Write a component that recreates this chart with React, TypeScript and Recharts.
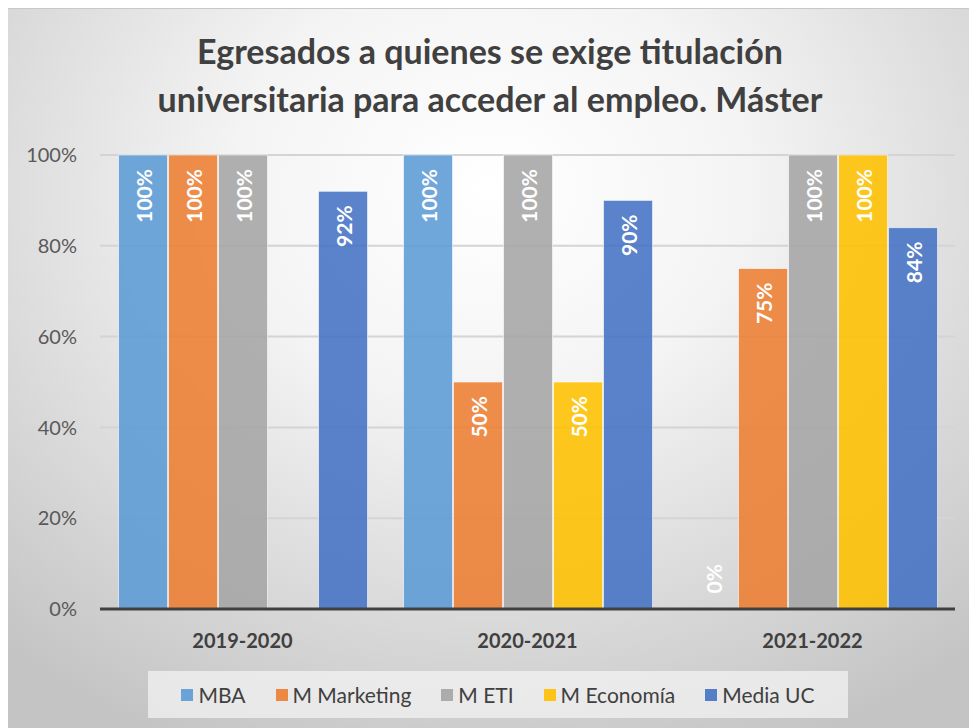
import { BarChart, Bar, XAxis, YAxis, CartesianGrid, Legend, LabelList } from 'recharts';

const CATEGORIES = ['2019-2020', '2020-2021', '2021-2022'];
const MBA = [100, 100, 0];
const MARKETING = [100, 50, 75];
const ETI = [100, 100, 100];
const ECONOMIA = [null, 50, 100];
const MEDIA_UC = [92, 90, 84];
const Y_TICKS = [0, 20, 40, 60, 80, 100];

const SERIES = [
  { key: 'mba', name: 'MBA', color: '#5b9bd5' },
  { key: 'marketing', name: 'M Marketing', color: '#ed7d31' },
  { key: 'eti', name: 'M ETI', color: '#a5a5a5' },
  { key: 'economia', name: 'M Economía', color: '#ffc000' },
  { key: 'media', name: 'Media UC', color: '#4472c4' },
];

const data = CATEGORIES.map((c, i) => ({
  name: c,
  mba: MBA[i],
  marketing: MARKETING[i],
  eti: ETI[i],
  economia: ECONOMIA[i],
  media: MEDIA_UC[i],
}));

const FONT = 'Lato, "Open Sans", sans-serif';

// zero bars still need a rect so the "0%" label gets drawn
const minSize = (v: any) => (v === 0 ? 0.01 : 0);

const BarShape = (props: any) => {
  const { x, y, width, height, fill, value } = props;
  if (!height || height < 0.5 || value === 0) return null;
  return (
    <rect
      x={x}
      y={y}
      width={width}
      height={height}
      fill={fill}
      fillOpacity={0.88}
      stroke="#ffffff"
      strokeOpacity={0.6}
      strokeWidth={1}
    />
  );
};

const BarLabel = (props: any) => {
  const { x, y, width, height, value } = props;
  if (value === null || value === undefined) return null;
  const cx = x + width / 2;
  const base = y + height;
  const ay = value === 0 ? base - 45 : y + 14;
  return (
    <text
      x={cx}
      y={ay}
      transform={`rotate(-90 ${cx} ${ay})`}
      textAnchor="end"
      dominantBaseline="central"
      fill="#fff"
      fontSize={21}
      fontWeight={700}
      fontFamily={FONT}
    >
      {`${value}%`}
    </text>
  );
};

const LegendBox = () => (
  <div
    style={{
      display: 'flex',
      justifyContent: 'center',
      alignItems: 'center',
      gap: 30,
      height: 47,
      background: 'rgba(245,245,245,0.7)',
      fontFamily: FONT,
      fontSize: 21,
      color: '#404040',
    }}
  >
    {SERIES.map((s) => (
      <div key={s.key} style={{ display: 'flex', alignItems: 'center', gap: 5 }}>
        <span style={{ width: 12, height: 12, background: s.color, opacity: 0.9, display: 'inline-block' }} />
        <span>{s.name}</span>
      </div>
    ))}
  </div>
);

const App = () => {
  return (
    <div
      style={{
        position: 'relative',
        width: 974,
        height: 720,
        marginLeft: -5,
        borderTop: '1px solid #c8c8c8',
        boxSizing: 'border-box',
        background: 'radial-gradient(ellipse 75% 85% at 50% 25%, #ffffff 0%, #f4f4f4 35%, #c4c4c4 100%)',
      }}
    >
      <div
        style={{
          position: 'absolute',
          top: 18,
          left: 0,
          width: 974,
          textAlign: 'center',
          fontFamily: FONT,
          fontWeight: 700,
          fontSize: 34,
          lineHeight: '48px',
          color: '#404040',
        }}
      >
        Egresados a quienes se exige titulación
        <br />
        universitaria para acceder al empleo. Máster
      </div>
      <BarChart
        width={974}
        height={720}
        data={data}
        margin={{ top: 146, right: 22, left: 37, bottom: 11 }}
        barCategoryGap="6.5%"
        barGap={1}
      >
        <CartesianGrid vertical={false} stroke="#d4d4d4" strokeWidth={2} />
        <XAxis
          dataKey="name"
          height={62}
          axisLine={{ stroke: '#404040', strokeWidth: 3 }}
          tickLine={false}
          tick={{ fontSize: 20, fontWeight: 700, fill: '#404040', fontFamily: FONT }}
          tickMargin={19}
        />
        <YAxis
          width={60}
          domain={[0, 100]}
          ticks={Y_TICKS}
          axisLine={false}
          tickLine={false}
          tickFormatter={(v) => `${v}%`}
          tick={{ fontSize: 20, fill: '#595959', fontFamily: FONT }}
          tickMargin={17}
        />
        <Legend
          verticalAlign="bottom"
          content={<LegendBox />}
          wrapperStyle={{ left: 145, width: 700, bottom: 11 }}
        />
        {SERIES.map((s) => (
          <Bar
            key={s.key}
            dataKey={s.key}
            name={s.name}
            fill={s.color}
            minPointSize={minSize}
            shape={<BarShape />}
            isAnimationActive={false}
          >
            <LabelList dataKey={s.key} content={<BarLabel />} />
          </Bar>
        ))}
      </BarChart>
    </div>
  );
};

export default App;
